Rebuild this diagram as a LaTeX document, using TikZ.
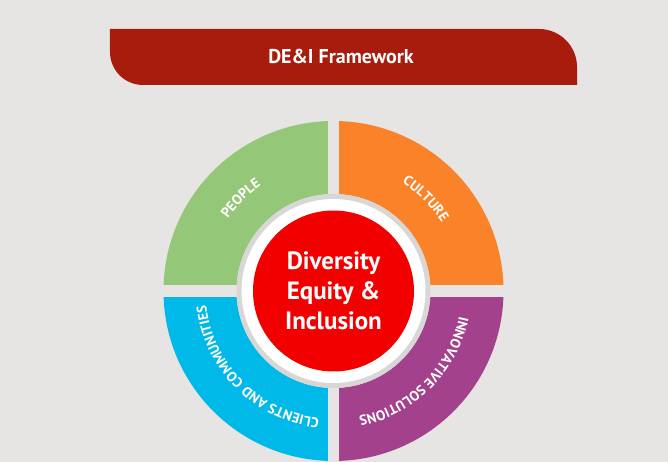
\documentclass[tikz,border=0pt]{standalone}
\usepackage{fontspec}
\setmainfont{PT Sans}
\usetikzlibrary{decorations.text}
\definecolor{bgray}{HTML}{E6E5E3}
\definecolor{ringgray}{HTML}{D8D7D5}
\definecolor{banner}{HTML}{A81C0E}
\definecolor{people}{HTML}{94C878}
\definecolor{culture}{HTML}{FA8228}
\definecolor{clients}{HTML}{00B9E8}
\definecolor{innov}{HTML}{A4418C}
\definecolor{deired}{HTML}{F20000}
\newcommand\seclabel{\fontsize{14}{15}\selectfont\bfseries\color{white}}
\begin{document}
\begin{tikzpicture}[x=1pt,y=1pt,
        arclabel/.style={decorate,decoration={text along path,text align=center,text={|\seclabel|#1}}}]
                \useasboundingbox[fill=bgray] (-333.5,-171) rectangle (334.5,291);
                \fill[banner] (-223.5,262) -- (205.5,262) arc[start angle=90,end angle=0,radius=38] -- (243.5,206) -- (-190.5,206) arc[start angle=270,end angle=180,radius=33] -- cycle;
                \node[text=white,font=\fontsize{20}{24}\selectfont\bfseries] (title) at (7.5,234) {DE\&I Framework};
                \foreach \a/\c/\t in {90/people/PEOPLE,0/culture/CULTURE,180/clients/CLIENTS AND COMMUNITIES,270/innov/INNOVATIVE SOLUTIONS}{
                    \fill[\c] (\a:97) -- (\a:170) arc[start angle=\a,end angle=\a+90,radius=170] -- (\a+90:97) arc[start angle=\a+90,end angle=\a,radius=97] -- cycle;
                    \path[arclabel=\t] (\a+89.5:128) arc[start angle=\a+89.5,end angle=\a+0.5,radius=128];
                }
                \draw[bgray,line width=11.5pt] (-172,0) -- (172,0) (0,-172) -- (0,172);
                \fill[ringgray] (0,0) circle[radius=97];
                \fill[white] (0,0) circle[radius=92];
                \node[circle,fill=deired,minimum size=161pt,inner sep=0pt,text=white,align=center,font=\fontsize{25}{30}\selectfont\bfseries] (dei) at (0,0) {Diversity\\Equity \&\\Inclusion};
            \end{tikzpicture}
\end{document}
